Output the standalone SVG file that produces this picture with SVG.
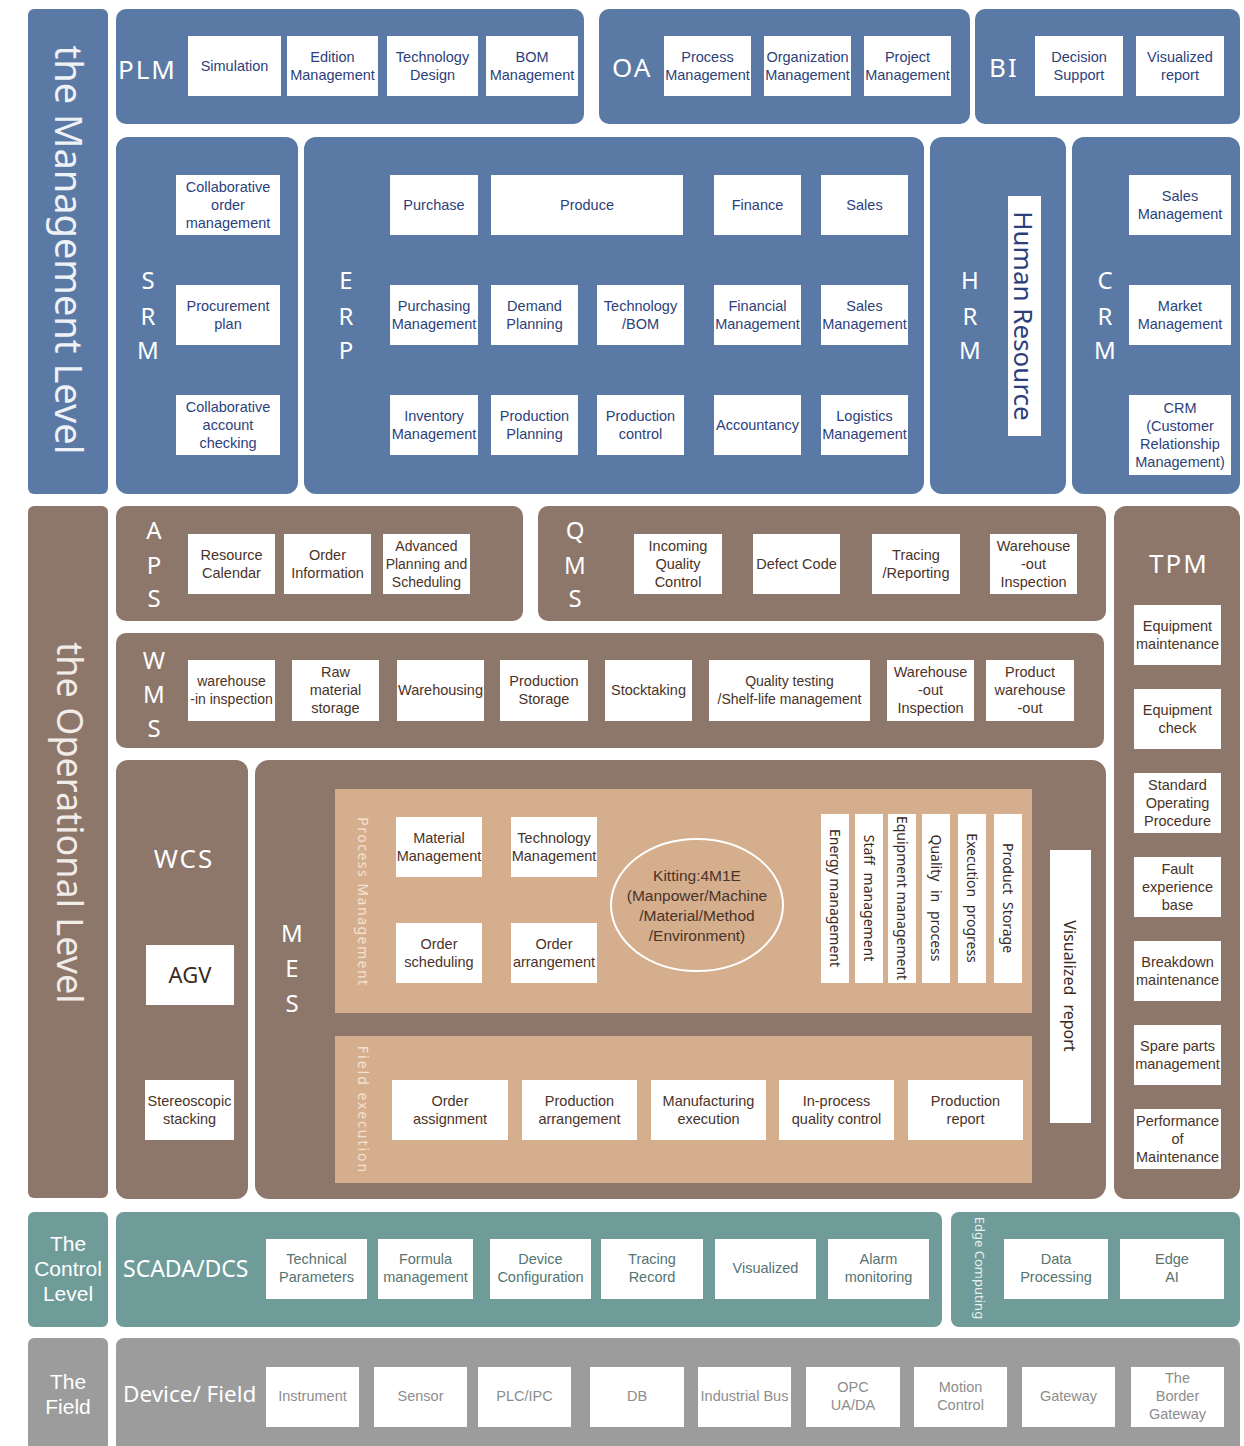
<svg xmlns="http://www.w3.org/2000/svg" width="1244" height="1446" viewBox="0 0 1244 1446">
<style>
.bg{fill:#ffffff}
.pb{fill:#5a7aa5}
.pr{fill:#8d766a}
.pt{fill:#d5ae8e}
.pc{fill:#6f9c99}
.pg{fill:#9c9c9c}
.bx{fill:#ffffff}
.t{font-family:'Liberation Sans',Arial,sans-serif;font-size:14.5px;text-anchor:middle}
.tn{fill:#2d3f7b}
.tr{fill:#4a3328}
.tc{fill:#557472}
.tg{fill:#8d8d8d}
.lb{font-family:'Noto Sans','DejaVu Sans',sans-serif;fill:#ffffff}
.ll{font-family:'Liberation Sans',Arial,sans-serif;fill:#ffffff;font-size:21px;text-anchor:middle}
.big{font-size:26px;letter-spacing:2px}
.ltr{font-size:24px;text-anchor:middle}
.lvl{font-family:'Noto Sans','DejaVu Sans',sans-serif;font-size:38px;fill:#eef1f5;text-anchor:middle;dominant-baseline:central}
.vt{font-family:'Noto Sans','DejaVu Sans',sans-serif;text-anchor:middle;dominant-baseline:central}
</style>
<rect class="bg" x="0" y="0" width="1244" height="1446"/>

<!-- ================= MANAGEMENT LEVEL ================= -->
<g id="management-level">
<rect class="pb" x="28" y="9" width="80" height="485" rx="6"/>
<text class="lvl" transform="translate(70,250) rotate(90)">the Management Level</text>
</g>

<g id="plm">
<rect class="pb" x="116" y="9" width="468" height="115" rx="10"/>
<text class="lb big" x="118" y="79">PLM</text>
<rect class="bx" x="188" y="36" width="93" height="60"/>
<text class="t tn" x="234.5" y="71">Simulation</text>
<rect class="bx" x="287" y="36" width="91" height="60"/>
<text class="t tn"><tspan x="332.5" y="62">Edition</tspan><tspan x="332.5" y="80">Management</tspan></text>
<rect class="bx" x="387" y="36" width="91" height="60"/>
<text class="t tn"><tspan x="432.5" y="62">Technology</tspan><tspan x="432.5" y="80">Design</tspan></text>
<rect class="bx" x="486" y="36" width="92" height="60"/>
<text class="t tn"><tspan x="532" y="62">BOM</tspan><tspan x="532" y="80">Management</tspan></text>
</g>

<g id="oa">
<rect class="pb" x="599" y="9" width="371" height="115" rx="10"/>
<text class="lb big" x="612" y="77">OA</text>
<rect class="bx" x="664" y="36" width="87" height="60"/>
<text class="t tn"><tspan x="707.5" y="62">Process</tspan><tspan x="707.5" y="80">Management</tspan></text>
<rect class="bx" x="764" y="36" width="87" height="60"/>
<text class="t tn"><tspan x="807.5" y="62">Organization</tspan><tspan x="807.5" y="80">Management</tspan></text>
<rect class="bx" x="864" y="36" width="87" height="60"/>
<text class="t tn"><tspan x="907.5" y="62">Project</tspan><tspan x="907.5" y="80">Management</tspan></text>
</g>

<g id="bi">
<rect class="pb" x="975" y="9" width="265" height="115" rx="10"/>
<text class="lb big" x="989" y="77">BI</text>
<rect class="bx" x="1035" y="36" width="88" height="60"/>
<text class="t tn"><tspan x="1079" y="62">Decision</tspan><tspan x="1079" y="80">Support</tspan></text>
<rect class="bx" x="1136" y="36" width="88" height="60"/>
<text class="t tn"><tspan x="1180" y="62">Visualized</tspan><tspan x="1180" y="80">report</tspan></text>
</g>

<g id="srm">
<rect class="pb" x="116" y="137" width="182" height="357" rx="12"/>
<text class="lb ltr" x="148" y="289">S</text>
<text class="lb ltr" x="148" y="325">R</text>
<text class="lb ltr" x="148" y="359">M</text>
<rect class="bx" x="176" y="175" width="104" height="60"/>
<text class="t tn"><tspan x="228" y="192">Collaborative</tspan><tspan x="228" y="210">order</tspan><tspan x="228" y="228">management</tspan></text>
<rect class="bx" x="176" y="285" width="104" height="60"/>
<text class="t tn"><tspan x="228" y="311">Procurement</tspan><tspan x="228" y="329">plan</tspan></text>
<rect class="bx" x="176" y="395" width="104" height="60"/>
<text class="t tn"><tspan x="228" y="412">Collaborative</tspan><tspan x="228" y="430">account</tspan><tspan x="228" y="448">checking</tspan></text>
</g>

<g id="erp">
<rect class="pb" x="304" y="137" width="620" height="357" rx="12"/>
<text class="lb ltr" x="346" y="289">E</text>
<text class="lb ltr" x="346" y="325">R</text>
<text class="lb ltr" x="346" y="359">P</text>
<rect class="bx" x="390" y="175" width="88" height="60"/>
<text class="t tn" x="434" y="210">Purchase</text>
<rect class="bx" x="491" y="175" width="192" height="60"/>
<text class="t tn" x="587" y="210">Produce</text>
<rect class="bx" x="714" y="175" width="87" height="60"/>
<text class="t tn" x="757.5" y="210">Finance</text>
<rect class="bx" x="821" y="175" width="87" height="60"/>
<text class="t tn" x="864.5" y="210">Sales</text>

<rect class="bx" x="390" y="285" width="88" height="60"/>
<text class="t tn"><tspan x="434" y="311">Purchasing</tspan><tspan x="434" y="329">Management</tspan></text>
<rect class="bx" x="491" y="285" width="87" height="60"/>
<text class="t tn"><tspan x="534.5" y="311">Demand</tspan><tspan x="534.5" y="329">Planning</tspan></text>
<rect class="bx" x="597" y="285" width="87" height="60"/>
<text class="t tn"><tspan x="640.5" y="311">Technology</tspan><tspan x="640.5" y="329">/BOM</tspan></text>
<rect class="bx" x="714" y="285" width="87" height="60"/>
<text class="t tn"><tspan x="757.5" y="311">Financial</tspan><tspan x="757.5" y="329">Management</tspan></text>
<rect class="bx" x="821" y="285" width="87" height="60"/>
<text class="t tn"><tspan x="864.5" y="311">Sales</tspan><tspan x="864.5" y="329">Management</tspan></text>

<rect class="bx" x="390" y="395" width="88" height="60"/>
<text class="t tn"><tspan x="434" y="421">Inventory</tspan><tspan x="434" y="439">Management</tspan></text>
<rect class="bx" x="491" y="395" width="87" height="60"/>
<text class="t tn"><tspan x="534.5" y="421">Production</tspan><tspan x="534.5" y="439">Planning</tspan></text>
<rect class="bx" x="597" y="395" width="87" height="60"/>
<text class="t tn"><tspan x="640.5" y="421">Production</tspan><tspan x="640.5" y="439">control</tspan></text>
<rect class="bx" x="714" y="395" width="87" height="60"/>
<text class="t tn" x="757.5" y="430">Accountancy</text>
<rect class="bx" x="821" y="395" width="87" height="60"/>
<text class="t tn"><tspan x="864.5" y="421">Logistics</tspan><tspan x="864.5" y="439">Management</tspan></text>
</g>

<g id="hrm">
<rect class="pb" x="930" y="137" width="136" height="357" rx="12"/>
<text class="lb ltr" x="970" y="289">H</text>
<text class="lb ltr" x="970" y="325">R</text>
<text class="lb ltr" x="970" y="359">M</text>
<rect class="bx" x="1008" y="196" width="33" height="240"/>
<text class="vt" font-size="26" fill="#2d3f7b" transform="translate(1024,316) rotate(90)">Human Resource</text>
</g>

<g id="crm">
<rect class="pb" x="1072" y="137" width="168" height="357" rx="12"/>
<text class="lb ltr" x="1105" y="289">C</text>
<text class="lb ltr" x="1105" y="325">R</text>
<text class="lb ltr" x="1105" y="359">M</text>
<rect class="bx" x="1129" y="175" width="102" height="60"/>
<text class="t tn"><tspan x="1180" y="201">Sales</tspan><tspan x="1180" y="219">Management</tspan></text>
<rect class="bx" x="1129" y="285" width="102" height="60"/>
<text class="t tn"><tspan x="1180" y="311">Market</tspan><tspan x="1180" y="329">Management</tspan></text>
<rect class="bx" x="1129" y="395" width="102" height="80"/>
<text class="t tn"><tspan x="1180" y="413">CRM</tspan><tspan x="1180" y="431">(Customer</tspan><tspan x="1180" y="449">Relationship</tspan><tspan x="1180" y="467">Management)</tspan></text>
</g>

<!-- ================= OPERATIONAL LEVEL ================= -->
<g id="operational-level">
<rect class="pr" x="28" y="506" width="80" height="692" rx="6"/>
<text class="lvl" style="font-size:36px;fill:#f1ece8" transform="translate(70,823) rotate(90)">the Operational Level</text>
</g>

<g id="aps">
<rect class="pr" x="116" y="506" width="407" height="115" rx="10"/>
<text class="lb ltr" x="154" y="539">A</text>
<text class="lb ltr" x="154" y="574">P</text>
<text class="lb ltr" x="154" y="607">S</text>
<rect class="bx" x="188" y="534" width="87" height="60"/>
<text class="t tr"><tspan x="231.5" y="560">Resource</tspan><tspan x="231.5" y="578">Calendar</tspan></text>
<rect class="bx" x="284" y="534" width="87" height="60"/>
<text class="t tr"><tspan x="327.5" y="560">Order</tspan><tspan x="327.5" y="578">Information</tspan></text>
<rect class="bx" x="383" y="534" width="87" height="60"/>
<text class="t tr" style="font-size:14px"><tspan x="426.5" y="551">Advanced</tspan><tspan x="426.5" y="569">Planning and</tspan><tspan x="426.5" y="587">Scheduling</tspan></text>
</g>

<g id="qms">
<rect class="pr" x="538" y="506" width="568" height="115" rx="10"/>
<text class="lb ltr" x="575" y="539">Q</text>
<text class="lb ltr" x="575" y="574">M</text>
<text class="lb ltr" x="575" y="607">S</text>
<rect class="bx" x="634" y="534" width="88" height="60"/>
<text class="t tr"><tspan x="678" y="551">Incoming</tspan><tspan x="678" y="569">Quality</tspan><tspan x="678" y="587">Control</tspan></text>
<rect class="bx" x="753" y="534" width="87" height="60"/>
<text class="t tr" x="796.5" y="569">Defect Code</text>
<rect class="bx" x="872" y="534" width="88" height="60"/>
<text class="t tr"><tspan x="916" y="560">Tracing</tspan><tspan x="916" y="578">/Reporting</tspan></text>
<rect class="bx" x="990" y="534" width="87" height="60"/>
<text class="t tr"><tspan x="1033.5" y="551">Warehouse</tspan><tspan x="1033.5" y="569">-out</tspan><tspan x="1033.5" y="587">Inspection</tspan></text>
</g>

<g id="wms">
<rect class="pr" x="116" y="633" width="988" height="115" rx="10"/>
<text class="lb ltr" x="154" y="669">W</text>
<text class="lb ltr" x="154" y="703">M</text>
<text class="lb ltr" x="154" y="737">S</text>
<rect class="bx" x="188" y="660" width="87" height="61"/>
<text class="t tr" style="font-size:14px"><tspan x="231.5" y="686">warehouse</tspan><tspan x="231.5" y="704">-in inspection</tspan></text>
<rect class="bx" x="292" y="660" width="87" height="61"/>
<text class="t tr"><tspan x="335.5" y="677">Raw</tspan><tspan x="335.5" y="695">material</tspan><tspan x="335.5" y="713">storage</tspan></text>
<rect class="bx" x="397" y="660" width="87" height="61"/>
<text class="t tr" x="440.5" y="695">Warehousing</text>
<rect class="bx" x="500" y="660" width="88" height="61"/>
<text class="t tr"><tspan x="544" y="686">Production</tspan><tspan x="544" y="704">Storage</tspan></text>
<rect class="bx" x="605" y="660" width="87" height="61"/>
<text class="t tr" x="648.5" y="695">Stocktaking</text>
<rect class="bx" x="709" y="660" width="161" height="61"/>
<text class="t tr" style="font-size:14px"><tspan x="789.5" y="686">Quality testing</tspan><tspan x="789.5" y="704">/Shelf-life management</tspan></text>
<rect class="bx" x="887" y="660" width="87" height="61"/>
<text class="t tr"><tspan x="930.5" y="677">Warehouse</tspan><tspan x="930.5" y="695">-out</tspan><tspan x="930.5" y="713">Inspection</tspan></text>
<rect class="bx" x="986" y="660" width="88" height="61"/>
<text class="t tr"><tspan x="1030" y="677">Product</tspan><tspan x="1030" y="695">warehouse</tspan><tspan x="1030" y="713">-out</tspan></text>
</g>

<g id="wcs">
<rect class="pr" x="116" y="760" width="132" height="439" rx="12"/>
<text class="lb big" x="184" y="868" text-anchor="middle">WCS</text>
<rect class="bx" x="146" y="945" width="88" height="60"/>
<text x="190" y="983" font-family="'Noto Sans','DejaVu Sans',sans-serif" font-size="22" fill="#3a2a22" text-anchor="middle">AGV</text>
<rect class="bx" x="145" y="1080" width="89" height="60"/>
<text class="t tr"><tspan x="189.5" y="1106">Stereoscopic</tspan><tspan x="189.5" y="1124">stacking</tspan></text>
</g>

<g id="mes">
<rect class="pr" x="255" y="760" width="851" height="439" rx="14"/>
<text class="lb ltr" x="292" y="942">M</text>
<text class="lb ltr" x="292" y="977">E</text>
<text class="lb ltr" x="292" y="1012">S</text>
</g>

<g id="process-management">
<rect class="pt" x="335" y="789" width="697" height="224"/>
<text class="vt" font-size="14" fill="#f5e2ce" letter-spacing="1.5" transform="translate(363,902) rotate(90)">Process Management</text>
<rect class="bx" x="396" y="817" width="86" height="60"/>
<text class="t tr"><tspan x="439" y="843">Material</tspan><tspan x="439" y="861">Management</tspan></text>
<rect class="bx" x="511" y="817" width="86" height="60"/>
<text class="t tr"><tspan x="554" y="843">Technology</tspan><tspan x="554" y="861">Management</tspan></text>
<rect class="bx" x="396" y="923" width="86" height="60"/>
<text class="t tr"><tspan x="439" y="949">Order</tspan><tspan x="439" y="967">scheduling</tspan></text>
<rect class="bx" x="511" y="923" width="86" height="60"/>
<text class="t tr"><tspan x="554" y="949">Order</tspan><tspan x="554" y="967">arrangement</tspan></text>
<ellipse cx="697" cy="905" rx="86" ry="66" fill="#d5ae8e" stroke="#ffffff" stroke-width="2"/>
<text class="t tr" style="font-size:15.5px"><tspan x="697" y="881">Kitting:4M1E</tspan><tspan x="697" y="901">(Manpower/Machine</tspan><tspan x="697" y="921">/Material/Method</tspan><tspan x="697" y="941">/Environment)</tspan></text>
<rect class="bx" x="821" y="814" width="28" height="169"/>
<text class="vt" font-size="14" fill="#3a2a22" transform="translate(835,898) rotate(90)">Energy management</text>
<rect class="bx" x="855" y="814" width="28" height="169"/>
<text class="vt" font-size="14" fill="#3a2a22" word-spacing="4" transform="translate(869,898) rotate(90)">Staff management</text>
<rect class="bx" x="888" y="814" width="28" height="169"/>
<text class="vt" font-size="14" fill="#3a2a22" transform="translate(902,898) rotate(90)">Equipment management</text>
<rect class="bx" x="922" y="814" width="28" height="169"/>
<text class="vt" font-size="14" fill="#3a2a22" word-spacing="5" transform="translate(936,898) rotate(90)">Quality in process</text>
<rect class="bx" x="958" y="814" width="28" height="169"/>
<text class="vt" font-size="14" fill="#3a2a22" word-spacing="4" transform="translate(972,898) rotate(90)">Execution progress</text>
<rect class="bx" x="994" y="814" width="28" height="169"/>
<text class="vt" font-size="14" fill="#3a2a22" word-spacing="4" transform="translate(1008,898) rotate(90)">Product Storage</text>
</g>

<g id="visualized-report">
<rect class="bx" x="1050" y="850" width="41" height="273"/>
<text class="vt" font-size="16" fill="#3a2a22" word-spacing="5" transform="translate(1070,986) rotate(90)">Visualized report</text>
</g>

<g id="field-execution">
<rect class="pt" x="335" y="1036" width="697" height="147"/>
<text class="vt" font-size="14" fill="#f5e2ce" letter-spacing="2" transform="translate(363,1110) rotate(90)">Field execution</text>
<rect class="bx" x="392" y="1080" width="116" height="60"/>
<text class="t tr"><tspan x="450" y="1106">Order</tspan><tspan x="450" y="1124">assignment</tspan></text>
<rect class="bx" x="522" y="1080" width="115" height="60"/>
<text class="t tr"><tspan x="579.5" y="1106">Production</tspan><tspan x="579.5" y="1124">arrangement</tspan></text>
<rect class="bx" x="651" y="1080" width="115" height="60"/>
<text class="t tr"><tspan x="708.5" y="1106">Manufacturing</tspan><tspan x="708.5" y="1124">execution</tspan></text>
<rect class="bx" x="779" y="1080" width="115" height="60"/>
<text class="t tr"><tspan x="836.5" y="1106">In-process</tspan><tspan x="836.5" y="1124">quality control</tspan></text>
<rect class="bx" x="908" y="1080" width="115" height="60"/>
<text class="t tr"><tspan x="965.5" y="1106">Production</tspan><tspan x="965.5" y="1124">report</tspan></text>
</g>

<g id="tpm">
<rect class="pr" x="1114" y="506" width="126" height="693" rx="12"/>
<text class="lb big" x="1179" y="573" text-anchor="middle">TPM</text>
<rect class="bx" x="1134" y="605" width="87" height="60"/>
<text class="t tr"><tspan x="1177.5" y="631">Equipment</tspan><tspan x="1177.5" y="649">maintenance</tspan></text>
<rect class="bx" x="1134" y="689" width="87" height="60"/>
<text class="t tr"><tspan x="1177.5" y="715">Equipment</tspan><tspan x="1177.5" y="733">check</tspan></text>
<rect class="bx" x="1134" y="773" width="87" height="60"/>
<text class="t tr"><tspan x="1177.5" y="790">Standard</tspan><tspan x="1177.5" y="808">Operating</tspan><tspan x="1177.5" y="826">Procedure</tspan></text>
<rect class="bx" x="1134" y="857" width="87" height="60"/>
<text class="t tr"><tspan x="1177.5" y="874">Fault</tspan><tspan x="1177.5" y="892">experience</tspan><tspan x="1177.5" y="910">base</tspan></text>
<rect class="bx" x="1134" y="941" width="87" height="60"/>
<text class="t tr"><tspan x="1177.5" y="967">Breakdown</tspan><tspan x="1177.5" y="985">maintenance</tspan></text>
<rect class="bx" x="1134" y="1025" width="87" height="60"/>
<text class="t tr"><tspan x="1177.5" y="1051">Spare parts</tspan><tspan x="1177.5" y="1069">management</tspan></text>
<rect class="bx" x="1134" y="1109" width="87" height="60"/>
<text class="t tr"><tspan x="1177.5" y="1126">Performance</tspan><tspan x="1177.5" y="1144">of</tspan><tspan x="1177.5" y="1162">Maintenance</tspan></text>
</g>

<!-- ================= CONTROL LEVEL ================= -->
<g id="control-level">
<rect class="pc" x="28" y="1212" width="80" height="115" rx="6"/>
<text class="ll"><tspan x="68" y="1251">The</tspan><tspan x="68" y="1276">Control</tspan><tspan x="68" y="1301">Level</tspan></text>
</g>

<g id="scada-dcs">
<rect class="pc" x="116" y="1212" width="826" height="115" rx="8"/>
<text class="lb" font-size="23" x="123" y="1277">SCADA/DCS</text>
<rect class="bx" x="266" y="1239" width="101" height="60"/>
<text class="t tc"><tspan x="316.5" y="1264">Technical</tspan><tspan x="316.5" y="1282">Parameters</tspan></text>
<rect class="bx" x="378" y="1239" width="95" height="60"/>
<text class="t tc"><tspan x="425.5" y="1264">Formula</tspan><tspan x="425.5" y="1282">management</tspan></text>
<rect class="bx" x="490" y="1239" width="101" height="60"/>
<text class="t tc"><tspan x="540.5" y="1264">Device</tspan><tspan x="540.5" y="1282">Configuration</tspan></text>
<rect class="bx" x="601" y="1239" width="102" height="60"/>
<text class="t tc"><tspan x="652" y="1264">Tracing</tspan><tspan x="652" y="1282">Record</tspan></text>
<rect class="bx" x="715" y="1239" width="101" height="60"/>
<text class="t tc" x="765.5" y="1273">Visualized</text>
<rect class="bx" x="828" y="1239" width="101" height="60"/>
<text class="t tc"><tspan x="878.5" y="1264">Alarm</tspan><tspan x="878.5" y="1282">monitoring</tspan></text>
</g>

<g id="edge-computing">
<rect class="pc" x="951" y="1212" width="289" height="115" rx="8"/>
<text class="vt" font-size="13" fill="#e6f0ef" transform="translate(980,1268) rotate(90)">Edge Computing</text>
<rect class="bx" x="1004" y="1239" width="104" height="60"/>
<text class="t tc"><tspan x="1056" y="1264">Data</tspan><tspan x="1056" y="1282">Processing</tspan></text>
<rect class="bx" x="1120" y="1239" width="104" height="60"/>
<text class="t tc"><tspan x="1172" y="1264">Edge</tspan><tspan x="1172" y="1282">AI</tspan></text>
</g>

<!-- ================= FIELD ================= -->
<g id="field-level">
<rect class="pg" x="28" y="1338" width="80" height="120" rx="6"/>
<text class="ll"><tspan x="68" y="1389">The</tspan><tspan x="68" y="1414">Field</tspan></text>
</g>

<g id="device-field">
<rect class="pg" x="116" y="1338" width="1124" height="120" rx="8"/>
<text class="lb" font-size="22.5" x="123" y="1402">Device/ Field</text>
<rect class="bx" x="266" y="1367" width="93" height="60"/>
<text class="t tg" x="312.5" y="1401">Instrument</text>
<rect class="bx" x="374" y="1367" width="93" height="60"/>
<text class="t tg" x="420.5" y="1401">Sensor</text>
<rect class="bx" x="478" y="1367" width="93" height="60"/>
<text class="t tg" x="524.5" y="1401">PLC/IPC</text>
<rect class="bx" x="590" y="1367" width="94" height="60"/>
<text class="t tg" x="637" y="1401">DB</text>
<rect class="bx" x="698" y="1367" width="93" height="60"/>
<text class="t tg" x="744.5" y="1401">Industrial Bus</text>
<rect class="bx" x="806" y="1367" width="94" height="60"/>
<text class="t tg"><tspan x="853" y="1392">OPC</tspan><tspan x="853" y="1410">UA/DA</tspan></text>
<rect class="bx" x="914" y="1367" width="93" height="60"/>
<text class="t tg"><tspan x="960.5" y="1392">Motion</tspan><tspan x="960.5" y="1410">Control</tspan></text>
<rect class="bx" x="1022" y="1367" width="93" height="60"/>
<text class="t tg" x="1068.5" y="1401">Gateway</text>
<rect class="bx" x="1131" y="1367" width="93" height="60"/>
<text class="t tg"><tspan x="1177.5" y="1383">The</tspan><tspan x="1177.5" y="1401">Border</tspan><tspan x="1177.5" y="1419">Gateway</tspan></text>
</g>

<g id="connectors"></g>
</svg>
